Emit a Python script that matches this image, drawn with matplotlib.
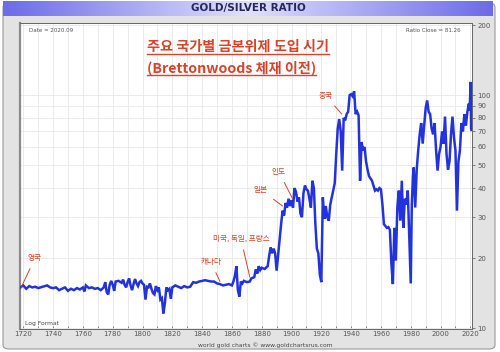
# gold/silver ratio chart, log scale, with gold-standard adoption notes
import numpy as np
import matplotlib.pyplot as plt
from matplotlib.patches import FancyBboxPatch
from matplotlib.lines import Line2D
from matplotlib.ticker import FixedLocator, NullLocator, MultipleLocator

years = [1718, 1720, 1722, 1724, 1726, 1728, 1730, 1733, 1736, 1738, 1740, 1742, 1744, 1746,
         1748, 1750, 1752, 1754, 1756, 1758, 1760, 1761, 1762, 1764, 1766, 1768, 1770, 1772,
         1774, 1775, 1776, 1777, 1778, 1779, 1780, 1781, 1782, 1784, 1786, 1787, 1788, 1789,
         1790, 1791, 1792, 1793, 1794, 1795, 1796, 1797, 1798, 1799, 1800, 1801, 1802, 1803,
         1804, 1805, 1806, 1807, 1808, 1809, 1810, 1811, 1812, 1813, 1814, 1815, 1816, 1817,
         1818, 1819, 1820, 1822, 1824, 1826, 1828, 1830, 1832, 1834, 1836, 1838, 1840, 1842,
         1844, 1846, 1848, 1850, 1852, 1854, 1856, 1858, 1860, 1861, 1862, 1863, 1864, 1865,
         1866, 1867, 1868, 1870, 1872, 1873, 1875, 1876, 1877, 1878, 1879, 1880, 1882, 1884,
         1885, 1886, 1887, 1888, 1889, 1890, 1891, 1892, 1893, 1894, 1895, 1896, 1897, 1898,
         1899, 1900, 1901, 1902, 1903, 1904, 1905, 1906, 1907, 1908, 1909, 1910, 1911, 1912,
         1913, 1914, 1915, 1916, 1917, 1918, 1919, 1920, 1921, 1922, 1923, 1924, 1925, 1926,
         1927, 1928, 1929, 1930, 1931, 1932, 1933, 1934, 1935, 1936, 1937, 1938, 1939, 1940,
         1941, 1942, 1943, 1944, 1945, 1946, 1947, 1948, 1949, 1950, 1951, 1952, 1953, 1954,
         1955, 1956, 1957, 1958, 1959, 1960, 1961, 1962, 1963, 1964, 1965, 1966, 1967, 1968,
         1969, 1970, 1971, 1972, 1973, 1974, 1975, 1976, 1977, 1978, 1979, 1980, 1980.7, 1981.5,
         1982, 1983, 1984, 1985, 1986, 1987, 1988, 1989, 1990, 1991, 1992, 1993, 1994, 1995,
         1996, 1997, 1998, 1999, 2000, 2001, 2002, 2003, 2004, 2005, 2006, 2007, 2008, 2009,
         2010, 2011, 2012, 2013, 2014, 2015, 2016, 2017, 2018, 2019, 2019.5, 2020.2, 2020.5, 2020.7]
ratio = [15.0, 15.3, 14.8, 15.2, 15.0, 15.1, 14.9, 15.1, 15.3, 15.0, 14.9, 15.0, 14.6, 14.8,
         15.0, 14.5, 14.8, 14.6, 14.9, 14.7, 15.0, 14.4, 15.3, 14.9, 15.0, 14.8, 14.9, 14.6,
         15.0, 15.8, 14.3, 14.0, 15.4, 16.0, 15.4, 14.5, 15.9, 16.0, 15.7, 16.2, 15.4, 15.0,
         15.8, 16.4, 15.3, 14.6, 15.5, 16.3, 15.6, 15.2, 15.8, 16.0, 15.6, 15.4, 13.3, 15.1,
         15.0, 15.6, 14.8, 14.2, 14.0, 15.2, 14.6, 15.0, 13.3, 13.5, 11.6, 12.8, 15.0, 14.6,
         14.8, 13.4, 15.0, 15.3, 15.1, 14.9, 15.2, 15.0, 15.1, 15.8, 15.7, 15.9, 16.0, 16.1,
         16.0, 15.9, 15.9, 15.6, 15.5, 15.3, 15.4, 15.5, 15.3, 15.9, 16.8, 18.5, 14.6, 13.7,
         15.9, 15.6, 16.0, 15.8, 15.9, 16.4, 16.6, 17.9, 17.2, 18.5, 17.8, 18.2, 18.0, 18.5,
         20.5, 22.3, 21.0, 22.0, 21.0, 17.7, 20.5, 24.0, 28.0, 32.0, 30.5, 34.5, 33.0, 36.0,
         33.5, 35.5, 33.0, 40.0, 38.5, 35.0, 36.5, 31.0, 30.0, 38.0, 41.0, 39.5, 39.0, 36.0,
         33.0, 43.0, 40.0, 28.0, 22.0, 21.0, 17.0, 15.8, 36.5, 29.5, 33.5, 30.0, 29.0, 34.0,
         36.5, 39.0, 42.0, 56.0, 72.0, 79.0, 70.0, 47.5, 80.0, 78.0, 83.0, 85.0, 100.0, 101.0,
         99.0, 104.0, 83.0, 85.0, 82.0, 43.0, 63.0, 58.0, 60.0, 52.0, 48.0, 45.0, 44.0, 43.0,
         41.0, 39.0, 39.5, 39.0, 40.0, 39.5, 34.0, 28.0, 27.5, 27.0, 27.2, 26.5, 19.0, 15.5,
         27.0, 19.6, 33.0, 39.0, 29.0, 43.0, 27.0, 36.0, 34.0, 39.0, 25.0, 15.6, 34.0, 45.0,
         49.0, 33.0, 48.0, 58.0, 68.0, 76.0, 62.0, 74.0, 88.0, 95.0, 85.0, 83.0, 72.0, 68.0,
         76.0, 58.0, 47.5, 56.0, 60.0, 70.0, 62.0, 81.0, 56.0, 48.0, 52.0, 68.0, 81.0, 66.0,
         58.0, 32.0, 52.0, 58.0, 76.0, 70.0, 83.0, 74.0, 85.0, 92.0, 86.0, 114.0, 72.0, 71.0]

y_ticks = [10, 20, 30, 40, 50, 60, 70, 80, 90, 100, 200]
x_ticks = list(range(1720, 2021, 20))

# notes: (label, year, ratio pointed at, text position in px from top-left)
notes = [('영국', 1718.6, 15.0, (35, 258)),
         ('캐나다', 1852, 15.9, (211, 262)),
         ('미국, 독일, 프랑스', 1872, 16.6, (241, 239)),
         ('일본', 1894, 33.5, (261, 190)),
         ('인도', 1900.7, 36.0, (279, 172)),
         ('중국', 1933.7, 83.0, (326, 96))]

W, H = 500, 352
kr = ['Noto Sans CJK KR', 'DejaVu Sans']
red = '#d8432a'

fig = plt.figure(figsize=(W / 100, H / 100), dpi=100, facecolor='white')

def fx(x):
    return x / W

def fy(y):
    return 1 - y / H

# grey outer panel, behind everything
fig.patches.append(FancyBboxPatch((fx(3), fy(349)), fx(492), 346 / H,
                                  boxstyle='round,pad=0,rounding_size=0.012',
                                  transform=fig.transFigure, facecolor='#e3e3e3',
                                  edgecolor='#9a9a9a', linewidth=0.8, zorder=-5))

# title bar with horizontal gradient
tax = fig.add_axes([fx(3), fy(16), fx(490), 15 / H])
g = np.abs(np.linspace(-1, 1, 256))
grad = np.array([[0.42, 0.42, 0.90]]) * g[:, None] + np.array([[0.88, 0.88, 0.99]]) * (1 - g[:, None])
tax.imshow(grad[None, :, :], aspect='auto', extent=[0, 1, 0, 1])
tax.set_axis_off()
tax.text(0.5, 0.5, 'GOLD/SILVER RATIO', ha='center', va='center', fontsize=7.5,
         fontweight='bold', color='#26265e', transform=tax.transAxes)

ax = fig.add_axes([fx(20), fy(329), fx(452), 306 / H])
ax.plot(years, ratio, color='#2233dd', linewidth=1.8, solid_joinstyle='miter', zorder=3)
ax.set_yscale('log')
ax.set_xlim(1717.8, 2021.1)
ax.set_ylim(9.95, 204)

ax.yaxis.set_major_locator(FixedLocator(y_ticks))
ax.yaxis.set_minor_locator(NullLocator())
ax.set_yticklabels([str(v) for v in y_ticks])
ax.yaxis.tick_right()
ax.xaxis.set_major_locator(FixedLocator(x_ticks))
ax.xaxis.set_minor_locator(MultipleLocator(10))
ax.tick_params(axis='both', which='both', labelsize=5, colors='#555555', length=2.5,
               width=0.5, pad=1.5)
ax.tick_params(axis='x', which='both', direction='in')
ax.grid(True, which='major', color='#e8e8e8', linewidth=0.6)
ax.grid(True, which='minor', axis='x', color='#e8e8e8', linewidth=0.6)
for side in ['top', 'right', 'bottom']:
    ax.spines[side].set_color('#666666')
    ax.spines[side].set_linewidth(0.7)
ax.spines['left'].set_color('#8a8a8a')
ax.spines['left'].set_linewidth(1.6)

ax.text(0.02, 0.985, 'Date = 2020.09', transform=ax.transAxes, fontsize=4, color='#555555',
        va='top', ha='left')
ax.text(0.975, 0.985, 'Ratio Close = 81.26', transform=ax.transAxes, fontsize=4,
        color='#555555', va='top', ha='right')
ax.text(0.01, 0.01, 'Log Format', transform=ax.transAxes, fontsize=4.3, color='#444444',
        va='bottom', ha='left')

fig.text(fx(265), fy(345), 'world gold charts © www.goldchartsrus.com', ha='center',
         va='center', fontsize=4.3, color='#444444')

# headline, underlined
heads = [fig.text(fx(147), fy(47), '주요 국가별 금본위제 도입 시기', ha='left', va='center',
                  fontsize=10.2, fontweight='bold', color=red, family=kr),
         fig.text(fx(147), fy(68), '(Brettonwoods 체재 이전)', ha='left', va='center',
                  fontsize=10.2, fontweight='bold', color=red, family=kr)]

for label, yr, val, (tx, ty) in notes:
    ax.annotate(label, xy=(yr, val), xycoords='data', xytext=(tx, H - ty),
                textcoords='figure pixels', ha='center', va='center', fontsize=5.5,
                color=red, family=kr,
                arrowprops=dict(arrowstyle='-', color=red, linewidth=0.7, shrinkA=3, shrinkB=0))

fig.canvas.draw()
rend = fig.canvas.get_renderer()
for t in heads:
    bb = t.get_window_extent(rend)
    yline = bb.y0 + 0.5
    fig.lines.append(Line2D([bb.x0 / W, bb.x1 / W], [yline / H, yline / H],
                            transform=fig.transFigure, color=red, linewidth=1.0))

fig.savefig('out.png', dpi=100, facecolor='white')
